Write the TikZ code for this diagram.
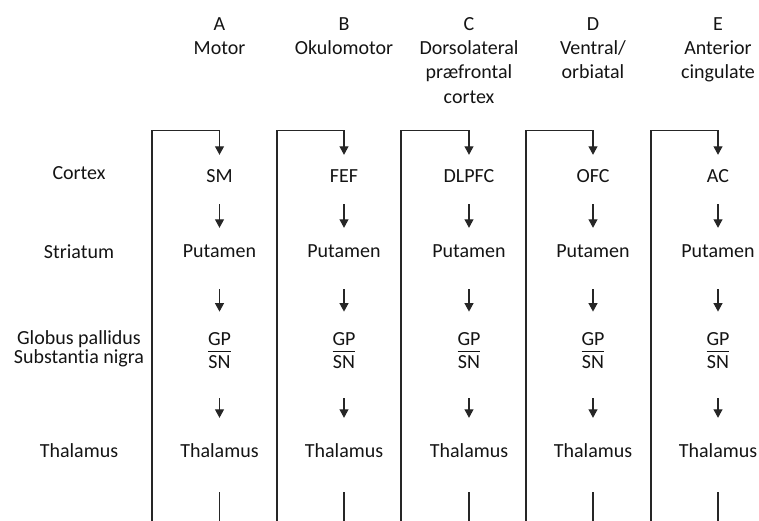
\documentclass[tikz,border=0pt]{standalone}
\usepackage{fontspec}
\setmainfont{Carlito}[Ligatures={NoCommon}]
\usetikzlibrary{arrows.meta,calc}
\newcommand\gpsn{\vbox{\halign{\hfil##\hfil\cr GP\cr\noalign{\kern5pt\hrule height0.9pt\kern3pt}SN\cr}}}
\tikzset{
  txt/.style={inner sep=0pt, text=black!92, font=\fontsize{20}{22}\selectfont},
  rowtxt/.style={txt, anchor=base, text height=12.9pt, text depth=0pt},
  hdr/.style={txt, anchor=north, align=center, font=\fontsize{20}{24.3}\selectfont},
  lbl/.style={txt, anchor=base, align=center, font=\fontsize{20}{19}\selectfont},
  ln/.style={draw=black!85, line width=1.1pt},
  arr/.style={ln, -{Triangle[width=9pt,length=8.5pt]}}
}
\begin{document}
\begin{tikzpicture}[x=1pt,y=-1pt]
\useasboundingbox (0,0) rectangle (759,521);
% left labels
\node[lbl] (lcx) at (79,179.5) {Cortex};
\node[lbl] (lst) at (79,258) {Striatum};
\node[lbl] (lgp) at (79,363.5) {Globus pallidus\\Substantia nigra};
\node[lbl] (lth) at (79,457.5) {Thalamus};
\foreach \n/\cx/\lx/\hd/\ct in {
  A/219.5/152/{A\\Motor}/SM,
  B/344/277/{B\\Okulomotor}/FEF,
  C/469/401/{C\\Dorsolateral\\præfrontal\\cortex}/DLPFC,
  D/593/526/{D\\Ventral/\\orbiatal}/OFC,
  E/718/651/{E\\Anterior\\cingulate}/AC}{
  \node[hdr] (h\n) at (\cx,17) {\hd};
  \node[rowtxt] (c\n) at (\cx,182.5) {\ct};
  \node[rowtxt] (p\n) at (\cx,257) {Putamen};
  \node[txt, anchor=base] (g\n) at (\cx,368) {\gpsn};
  \node[rowtxt] (t\n) at (\cx,457) {Thalamus};
  \coordinate (l\n) at (\lx,521);
  \coordinate (z\n) at (\cx,521);
  \draw[arr] (l\n) |- ([yshift=38.6pt]c\n.north) -- ([yshift=14.6pt]c\n.north);
  \draw[arr, shorten <=21.5pt, shorten >=16.1pt] (c\n.south) -- (p\n.north);
  \draw[arr, shorten <=32pt, shorten >=21.2pt] (p\n.south) -- (g\n.north);
  \draw[arr, shorten <=30pt, shorten >=26.1pt] (g\n.south) -- (t\n.north);
  \draw[ln, shorten <=35pt] (t\n.south) -- (z\n);
}
\end{tikzpicture}
\end{document}
